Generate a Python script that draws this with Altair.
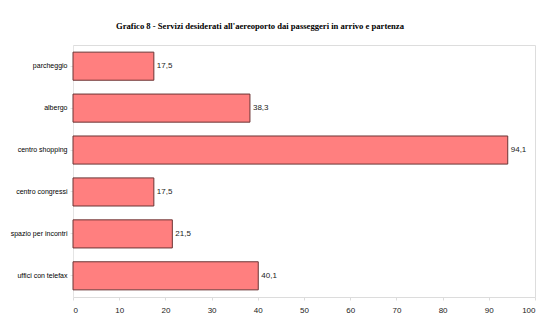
import altair as alt
import pandas as pd

categories = ["parcheggio", "albergo", "centro shopping", "centro congressi", "spazio per incontri", "uffici con telefax"]
values = [17.5, 38.3, 94.1, 17.5, 21.5, 40.1]
value_labels = ["17,5", "38,3", "94,1", "17,5", "21,5", "40,1"]
x_ticks = [0, 10, 20, 30, 40, 50, 60, 70, 80, 90, 100]

df = pd.DataFrame({"cat": categories, "val": values, "lab": value_labels})

y_enc = alt.Y("cat:N", sort=categories, title=None,
              scale=alt.Scale(paddingInner=0.33, paddingOuter=0.17),
              axis=alt.Axis(labelFont="Liberation Sans", labelFontSize=7, labelColor="#000",
                            domainColor="#e4e4e4", tickColor="#e4e4e4", tickSize=3,
                            labelPadding=3))
x_enc = alt.X("val:Q", title=None,
              scale=alt.Scale(domain=[0, 100], nice=False),
              axis=alt.Axis(values=x_ticks, grid=False, labelFont="Liberation Sans",
                            labelFontSize=8, labelColor="#222", domainColor="#dcdcdc",
                            tickColor="#dcdcdc", tickSize=3, labelPadding=6))

bars = alt.Chart(df).mark_bar(color="#ff7f7f", stroke="#6b3434", strokeWidth=1).encode(
    x=x_enc, y=y_enc)

text = alt.Chart(df).mark_text(align="left", dx=3, font="Liberation Sans", fontSize=8,
                               color="#222").encode(
    x="val:Q", y=alt.Y("cat:N", sort=categories), text="lab:N")

chart = (bars + text).properties(
    width=462, height=252,
    autosize=alt.AutoSizeParams(type="none"),
    padding={"left": 73, "top": 45, "right": 25, "bottom": 30},
    title=alt.TitleParams(
        "Grafico 8 - Servizi desiderati  all'aereoporto dai passeggeri in arrivo e partenza",
        font="Liberation Serif", fontSize=8.6, fontWeight="bold", color="#000",
        anchor="middle", dx=-44, offset=14),
).configure_view(stroke=None).configure(background="white")

chart.save("out.html", embed_options={"renderer": "svg", "actions": False})
